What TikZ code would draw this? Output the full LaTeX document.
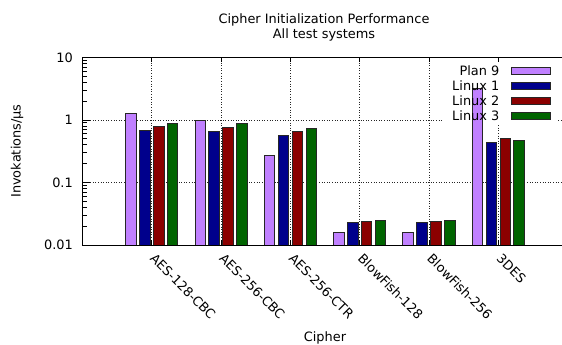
\documentclass[tikz,border=0pt]{standalone}
\usepackage{fontspec}
\setmainfont{DejaVu Sans}
\definecolor{plan}{RGB}{192,128,255}
\definecolor{lina}{RGB}{0,0,140}
\definecolor{linb}{RGB}{139,0,0}
\definecolor{linc}{RGB}{0,100,0}
\begin{document}
\begin{tikzpicture}[x=1pt,y=-1pt,font=\fontsize{12.9}{14}\selectfont,
  bar/.style={draw=black!85,line width=0.8pt},
  gridline/.style={dotted,line width=0.6pt,black!85},
  frameline/.style={line width=0.9pt,black},
  ticklab/.style={anchor=east,inner sep=0pt},
  catlab/.style={anchor=north west,rotate=-45,inner sep=0pt},
  leglab/.style={anchor=east,inner sep=0pt}]
\useasboundingbox (0,0) rectangle (562,345);
\clip (0,0) rectangle (562,345);
% grid
\foreach \i in {0,...,5}
  \draw[gridline] ({151.7+69.3*\i},57.5) -- ({151.7+69.3*\i},245);
\foreach \yy in {120,182.5}
  \draw[gridline] (82.4,\yy) -- (567,\yy);
% legend background
\fill[white] (442,62) rectangle (558,124);
% bars
\foreach \i/\a/\b/\c/\d in {0/1.28/0.69/0.80/0.89,1/1.0/0.65/0.76/0.87,2/0.272/0.575/0.65/0.745,3/0.0157/0.0231/0.0239/0.0248,4/0.0157/0.0231/0.0239/0.0248,5/3.2/0.44/0.50/0.473}{
  \foreach \j/\v/\col in {0/\a/plan,1/\b/lina,2/\c/linb,3/\d/linc}{
    \pgfmathsetmacro\xl{151.7+69.3*\i+(\j-1.5)*13.9-5.25}
    \pgfmathsetmacro\yt{245-62.5*(log10(\v)+2)}
    \draw[bar,fill=\col] (\xl,245) rectangle ({\xl+10.5},\yt);
  }}
% legend
\node[leglab] (l1) at (499.5,71) {Plan 9};
\node[leglab] (l2) at (499.5,86) {Linux 1};
\node[leglab] (l3) at (499.5,101) {Linux 2};
\node[leglab] (l4) at (499.5,116) {Linux 3};
\draw[bar,fill=plan] (511,67.3) rectangle (550,74.7);
\draw[bar,fill=lina] (511,82.3) rectangle (550,89.7);
\draw[bar,fill=linb] (511,97.3) rectangle (550,104.7);
\draw[bar,fill=linc] (511,112.3) rectangle (550,119.7);
% frame
\draw[frameline] (567,57.5) -- (82.4,57.5) -- (82.4,245) -- (567,245);
% y ticks
\foreach \yy in {57.5,120,182.5,245}
  \draw[line width=0.8pt] (82.4,\yy) -- (90,\yy);
\foreach \dd in {0,1,2}{
  \foreach \k in {2,...,9}{
    \pgfmathsetmacro\ym{245-62.5*(\dd+log10(\k))}
    \draw[line width=0.8pt] (82.4,\ym) -- (86.5,\ym);
  }}
% x ticks
\foreach \i in {0,...,5}{
  \draw[line width=0.8pt] ({151.7+69.3*\i},245) -- ({151.7+69.3*\i},240);
  \draw[line width=0.8pt] ({151.7+69.3*\i},57.5) -- ({151.7+69.3*\i},62.5);
}
% tick labels
\node[ticklab] (t10) at (73,57.5) {10};
\node[ticklab] (t1) at (73,120) {1};
\node[ticklab] (t01) at (73,182.5) {0.1};
\node[ticklab] (t001) at (73,245) {0.01};
\node[catlab] (c1) at (156.2,252.5) {AES-128-CBC};
\node[catlab] (c2) at (225.5,252.5) {AES-256-CBC};
\node[catlab] (c3) at (294.8,252.5) {AES-256-CTR};
\node[catlab] (c4) at (364.1,252.5) {BlowFish-128};
\node[catlab] (c5) at (433.4,252.5) {BlowFish-256};
\node[catlab] (c6) at (502.7,252.5) {3DES};
% titles
\node (title1) at (324,19.7) {Cipher Initialization Performance};
\node (title2) at (324,34.7) {All test systems};
\node (xlab) at (325,338) {Cipher};
\node[rotate=90] (ylab) at (17,151) {Invokations/µs};
\end{tikzpicture}
\end{document}
